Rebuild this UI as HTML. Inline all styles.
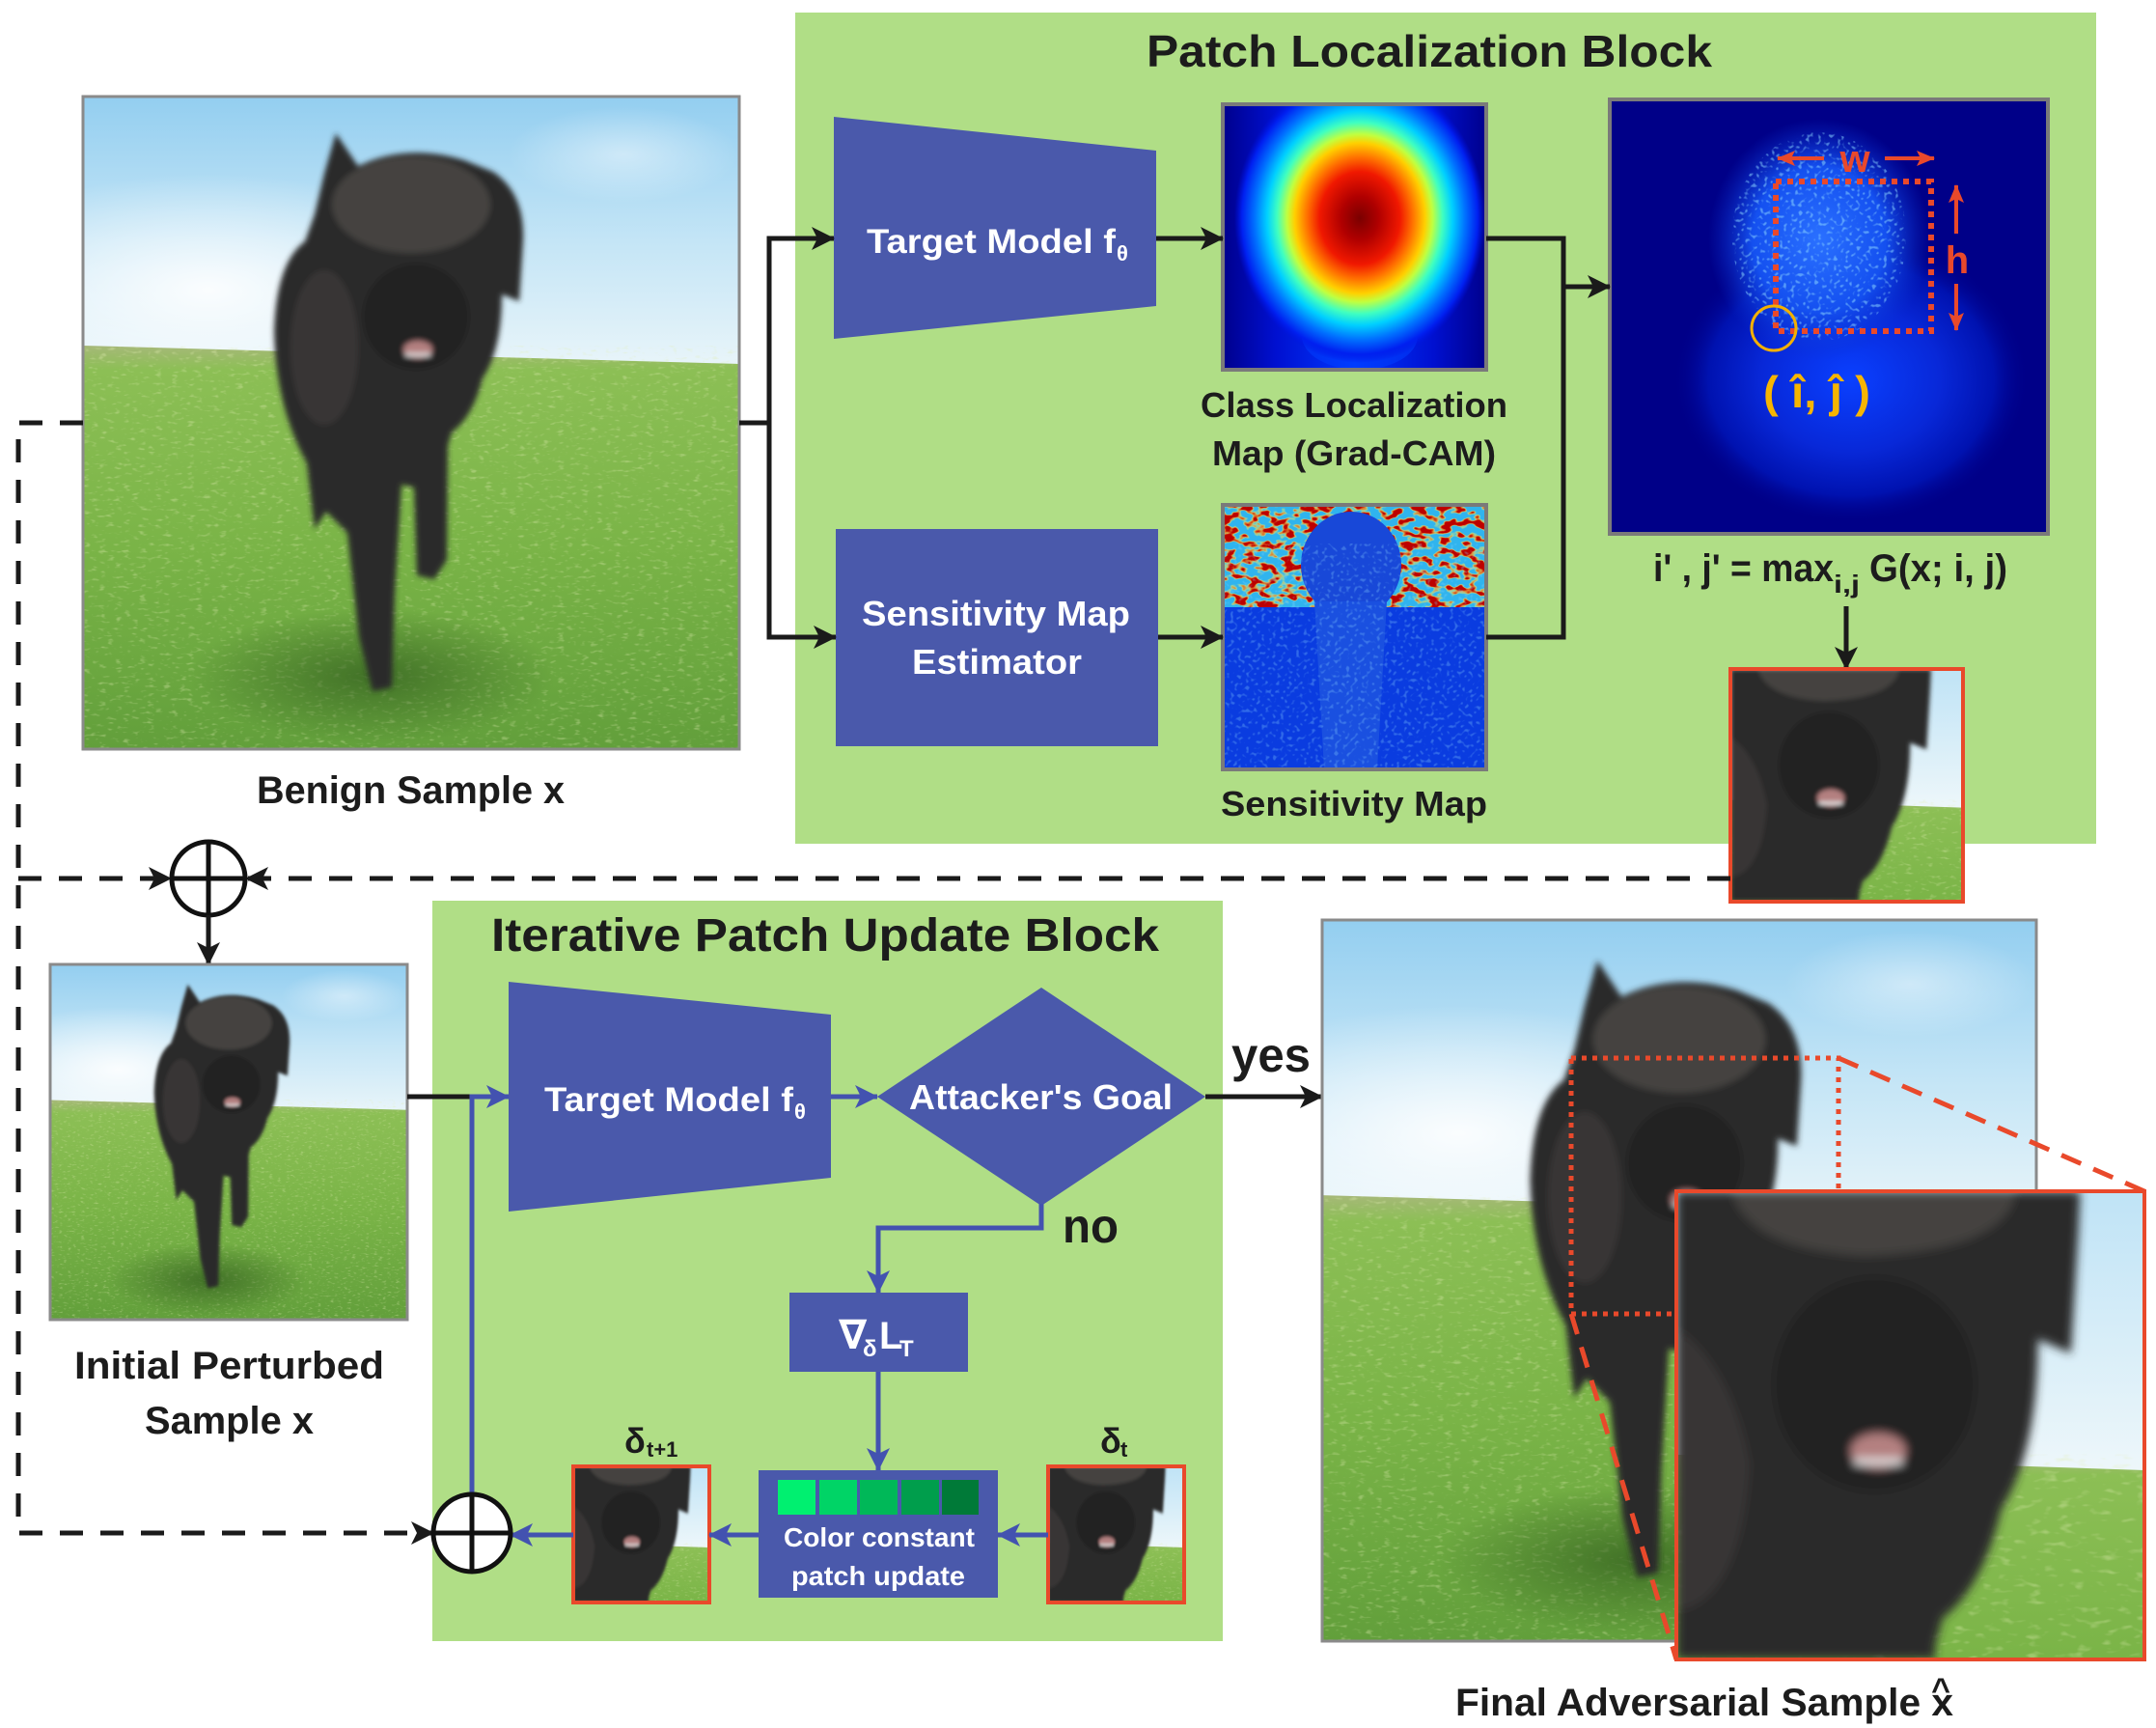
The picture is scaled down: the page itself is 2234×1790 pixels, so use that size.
<!DOCTYPE html>
<html><head><meta charset="utf-8"><style>
html,body{margin:0;padding:0;background:#fff;width:2234px;height:1790px;overflow:hidden;}
svg{display:block;}
text{font-family:"Liberation Sans","DejaVu Sans",sans-serif;font-weight:bold;fill:#1c1c1c;}
.w{fill:#fff;}
</style></head><body>
<svg xmlns="http://www.w3.org/2000/svg" xmlns:xlink="http://www.w3.org/1999/xlink" width="2234" height="1790" viewBox="0 0 2234 1790" overflow="hidden">
<defs>
  <linearGradient id="sky" x1="0" y1="0" x2="0" y2="1">
    <stop offset="0" stop-color="#93cef0"/>
    <stop offset="0.5" stop-color="#c4e5f6"/>
    <stop offset="1" stop-color="#eef7fa"/>
  </linearGradient>
  <linearGradient id="skyf" x1="0" y1="0" x2="0" y2="1">
    <stop offset="0" stop-color="#bfe3f6"/>
    <stop offset="1" stop-color="#eef7fa"/>
  </linearGradient>
  <radialGradient id="haze" cx="0.5" cy="0.5" r="0.5">
    <stop offset="0" stop-color="#ffffff" stop-opacity="0.9"/>
    <stop offset="1" stop-color="#ffffff" stop-opacity="0"/>
  </radialGradient>
  <linearGradient id="grass" x1="0" y1="0" x2="0" y2="1">
    <stop offset="0" stop-color="#a6b878"/>
    <stop offset="0.06" stop-color="#8cbf55"/>
    <stop offset="0.5" stop-color="#7ab447"/>
    <stop offset="1" stop-color="#629f3b"/>
  </linearGradient>
  <linearGradient id="grassf" x1="0" y1="0" x2="0" y2="1">
    <stop offset="0" stop-color="#a6b878"/>
    <stop offset="0.1" stop-color="#8cbf55"/>
    <stop offset="1" stop-color="#7ab447"/>
  </linearGradient>
  <radialGradient id="shadow" cx="0.5" cy="0.5" r="0.5">
    <stop offset="0" stop-color="#2f5a1c" stop-opacity="0.7"/>
    <stop offset="1" stop-color="#2f5a1c" stop-opacity="0"/>
  </radialGradient>
  <filter id="soft" x="-10%" y="-10%" width="120%" height="120%">
    <feGaussianBlur stdDeviation="3"/>
  </filter>
  <filter id="softf" x="-10%" y="-10%" width="120%" height="120%">
    <feGaussianBlur stdDeviation="2.5"/>
  </filter>
  <filter id="gtex" x="0" y="0" width="1" height="1">
    <feTurbulence type="fractalNoise" baseFrequency="0.12 0.3" numOctaves="2" seed="4"/>
    <feColorMatrix type="matrix" values="0 0 0 0 0.75  0 0 0 0 0.85  0 0 0 0 0.45  4 0 0 0 -2.3"/>
  </filter>
  <symbol id="scene" viewBox="0 0 680 676" preserveAspectRatio="none">
    <rect x="0" y="0" width="680" height="300" fill="url(#sky)"/>
    <ellipse cx="130" cy="200" rx="280" ry="120" fill="url(#haze)"/>
    <ellipse cx="560" cy="60" rx="120" ry="50" fill="url(#haze)" opacity="0.5"/>
    <polygon points="0,258 680,277 680,676 0,676" fill="url(#grass)"/>
    <polygon points="0,258 680,277 680,676 0,676" fill="#fff" filter="url(#gtex)" opacity="0.35"/>
    <ellipse cx="300" cy="600" rx="190" ry="70" fill="url(#shadow)"/>
    <g filter="url(#soft)">
      <path d="M240,122 L250,80 L262,38 L285,72 Q335,48 395,66 L425,78 Q458,100 456,150 L452,212 L434,205 Q434,262 414,292 Q404,332 382,348 L378,362 L377,480 L364,500 L346,496 L343,405 L330,402 L323,515 L320,612 L300,616 L286,560 L274,452 L252,430 L240,448 L232,380 Q200,322 198,244 Q200,172 230,150 Z" fill="#2c2b2b"/>
      <ellipse cx="340" cy="112" rx="82" ry="50" fill="#55524f" opacity="0.6"/>
      <ellipse cx="250" cy="260" rx="35" ry="80" fill="#44413e" opacity="0.5"/>
      <ellipse cx="345" cy="228" rx="55" ry="55" fill="#222121"/>
      <ellipse cx="347" cy="262" rx="15" ry="9" fill="#b48080"/>
      <rect x="334" y="266" width="26" height="3" fill="#e8e8e8"/>
    </g>
  </symbol>
  <symbol id="face" viewBox="0 0 255 240" preserveAspectRatio="none">
    <rect x="0" y="0" width="255" height="145" fill="url(#skyf)"/>
    <polygon points="0,135 255,143 255,240 0,240" fill="url(#grassf)"/>
    <polygon points="0,135 255,143 255,240 0,240" fill="#fff" filter="url(#gtex)" opacity="0.35"/>
    <g filter="url(#softf)">
      <path d="M0,0 H220 L219,21 L215,83 L197,76 Q197,133 177,163 Q167,203 145,219 L141,233 L141,240 H0 Z" fill="#2c2b2b"/>
      <path d="M30,0 H185 Q180,30 103,33 Q40,30 30,0 Z" fill="#55524f" opacity="0.6"/>
      <path d="M0,70 Q30,90 40,140 Q35,210 0,215 Z" fill="#44413e" opacity="0.5"/>
      <ellipse cx="108" cy="99" rx="55" ry="55" fill="#222121"/>
      <ellipse cx="110" cy="133" rx="15" ry="9" fill="#b48080"/>
      <rect x="97" y="137" width="26" height="3" fill="#e8e8e8"/>
    </g>
  </symbol>
  <radialGradient id="jet" cx="0.5" cy="0.5" r="0.5">
    <stop offset="0" stop-color="#7a0000"/>
    <stop offset="0.15" stop-color="#b00000"/>
    <stop offset="0.32" stop-color="#f01800"/>
    <stop offset="0.42" stop-color="#ff7000"/>
    <stop offset="0.52" stop-color="#ffd000"/>
    <stop offset="0.58" stop-color="#c0ff40"/>
    <stop offset="0.66" stop-color="#40ffc0"/>
    <stop offset="0.74" stop-color="#00d0ff"/>
    <stop offset="0.84" stop-color="#0070ff"/>
    <stop offset="0.94" stop-color="#0020f0"/>
    <stop offset="1" stop-color="#0010e0" stop-opacity="0"/>
  </radialGradient>
  <linearGradient id="band" x1="0" y1="0" x2="1" y2="0">
    <stop offset="0" stop-color="#00008c"/>
    <stop offset="0.2" stop-color="#0010d0"/>
    <stop offset="0.5" stop-color="#0038ff"/>
    <stop offset="0.8" stop-color="#0010d0"/>
    <stop offset="1" stop-color="#00008c"/>
  </linearGradient>
  <radialGradient id="cyantop" cx="0.5" cy="0.5" r="0.5">
    <stop offset="0" stop-color="#30ffd0"/>
    <stop offset="0.6" stop-color="#00b0ff"/>
    <stop offset="1" stop-color="#0040ff" stop-opacity="0"/>
  </radialGradient>
  <filter id="yn" x="0" y="0" width="1" height="1">
    <feTurbulence type="fractalNoise" baseFrequency="0.08 0.13" numOctaves="2" seed="7"/>
    <feColorMatrix type="matrix" values="0 0 0 0 1  0 0 0 0 0.9  0 0 0 0 0.1  9 0 0 0 -4.1"/>
  </filter>
  <filter id="rn" x="0" y="0" width="1" height="1">
    <feTurbulence type="fractalNoise" baseFrequency="0.08 0.13" numOctaves="2" seed="7"/>
    <feColorMatrix type="matrix" values="0 0 0 0 0.5  0 0 0 0 0  0 0 0 0 0  9 0 0 0 -4.6"/>
  </filter>
  <filter id="bn" x="0" y="0" width="1" height="1">
    <feTurbulence type="fractalNoise" baseFrequency="0.25" numOctaves="1" seed="2"/>
    <feColorMatrix type="matrix" values="0 0 0 0 0.25  0 0 0 0 0.65  0 0 0 0 1  6 0 0 0 -3.3"/>
  </filter>
  <radialGradient id="sal1" cx="0.5" cy="0.5" r="0.5">
    <stop offset="0" stop-color="#0a40ff"/>
    <stop offset="0.5" stop-color="#0828d8"/>
    <stop offset="0.8" stop-color="#0012b0"/>
    <stop offset="1" stop-color="#000088" stop-opacity="0"/>
  </radialGradient>
  <radialGradient id="sal2" cx="0.5" cy="0.5" r="0.5">
    <stop offset="0" stop-color="#2a70ff"/>
    <stop offset="0.6" stop-color="#1450f0"/>
    <stop offset="1" stop-color="#0830d0" stop-opacity="0"/>
  </radialGradient>
  <clipPath id="headclip"><ellipse cx="217" cy="142" rx="90" ry="108"/></clipPath>
  <marker id="ak" markerUnits="userSpaceOnUse" markerWidth="26" markerHeight="26" refX="23" refY="13" orient="auto">
    <path d="M0,1 L24,13 L0,25 L6,13 Z" fill="#1a1a1a"/>
  </marker>
  <marker id="ab" markerUnits="userSpaceOnUse" markerWidth="26" markerHeight="26" refX="23" refY="13" orient="auto">
    <path d="M0,1 L24,13 L0,25 L6,13 Z" fill="#4352b0"/>
  </marker>
  <marker id="ar" markerUnits="userSpaceOnUse" markerWidth="20" markerHeight="20" refX="18" refY="10" orient="auto">
    <path d="M0,2 L19,10 L0,18 L4,10 Z" fill="#e9492b"/>
  </marker>
</defs>

<!-- green blocks -->
<rect x="824" y="13" width="1348" height="861" fill="#b0de86"/>
<rect x="448" y="933" width="819" height="767" fill="#b0de86"/>

<!-- Benign image -->
<use xlink:href="#scene" href="#scene" x="86" y="100" width="680" height="676"/>
<rect x="86" y="100" width="680" height="676" fill="none" stroke="#8a8a8a" stroke-width="3"/>
<text x="266" y="832" font-size="40" textLength="319" lengthAdjust="spacingAndGlyphs">Benign Sample x</text>

<!-- Title top -->
<text x="1188" y="69" font-size="46" textLength="586" lengthAdjust="spacingAndGlyphs">Patch Localization Block</text>

<!-- Target model top -->
<polygon points="864,121 1198,156 1198,317 864,351" fill="#4a59ab"/>
<text class="w" x="898" y="262" font-size="35" textLength="258" lengthAdjust="spacingAndGlyphs">Target Model f</text>
<text class="w" x="1157" y="270" font-size="22">θ</text>

<!-- Sensitivity estimator -->
<rect x="866" y="548" width="334" height="225" fill="#4a59ab"/>
<text class="w" x="893" y="648" font-size="36" textLength="278" lengthAdjust="spacingAndGlyphs">Sensitivity Map</text>
<text class="w" x="945" y="698" font-size="36" textLength="176" lengthAdjust="spacingAndGlyphs">Estimator</text>

<!-- Grad-CAM -->
<svg x="1267" y="108" width="273" height="275" viewBox="0 0 273 275">
  <rect width="273" height="275" fill="url(#band)"/>
  <ellipse cx="142" cy="30" rx="45" ry="30" fill="url(#cyantop)"/>
  <ellipse cx="142" cy="240" rx="60" ry="35" fill="#0040ff" opacity="0.5"/>
  <ellipse cx="142" cy="118" rx="130" ry="150" fill="url(#jet)"/>
</svg>
<rect x="1267" y="108" width="273" height="275" fill="none" stroke="#7a7a7a" stroke-width="4"/>
<text x="1244" y="432" font-size="36" textLength="318" lengthAdjust="spacingAndGlyphs">Class Localization</text>
<text x="1256" y="482" font-size="36" textLength="294" lengthAdjust="spacingAndGlyphs">Map (Grad-CAM)</text>

<!-- Sensitivity map -->
<svg x="1267" y="523" width="273" height="274" viewBox="0 0 273 274">
  <rect width="273" height="274" fill="#0a3ce0"/>
  <rect width="273" height="106" fill="#30b4ee"/>
  <rect width="273" height="106" fill="#fff" filter="url(#yn)"/>
  <rect width="273" height="106" fill="#fff" filter="url(#rn)"/>
  <ellipse cx="133" cy="62" rx="52" ry="55" fill="#1848d8"/>
  <path d="M95,100 L170,100 L160,274 L105,274 Z" fill="#1a50e0"/>
  <rect y="40" width="273" height="234" fill="#fff" filter="url(#bn)" opacity="0.3"/>
</svg>
<rect x="1267" y="523" width="273" height="274" fill="none" stroke="#7a7a7a" stroke-width="4"/>
<text x="1265" y="845" font-size="36" textLength="276" lengthAdjust="spacingAndGlyphs">Sensitivity Map</text>

<!-- Saliency -->
<svg x="1668" y="103" width="454" height="450" viewBox="0 0 454 450">
  <rect width="454" height="450" fill="#000088"/>
  <ellipse cx="250" cy="290" rx="185" ry="150" fill="url(#sal1)"/>
  <ellipse cx="217" cy="145" rx="115" ry="125" fill="url(#sal2)"/>
  <rect x="110" y="30" width="220" height="230" fill="#fff" filter="url(#bn)" clip-path="url(#headclip)" opacity="0.55"/>
</svg>
<rect x="1668" y="103" width="454" height="450" fill="none" stroke="#7a7a7a" stroke-width="4"/>
<rect x="1840" y="188" width="161" height="155" fill="none" stroke="#e9492b" stroke-width="6" stroke-dasharray="6 6"/>
<line x1="1890" y1="164" x2="1842" y2="164" stroke="#e9492b" stroke-width="4" marker-end="url(#ar)"/>
<line x1="1953" y1="164" x2="2004" y2="164" stroke="#e9492b" stroke-width="4" marker-end="url(#ar)"/>
<text x="1922" y="178" font-size="40" text-anchor="middle" style="fill:#e9492b">w</text>
<line x1="2027" y1="242" x2="2027" y2="192" stroke="#e9492b" stroke-width="4" marker-end="url(#ar)"/>
<line x1="2027" y1="294" x2="2027" y2="342" stroke="#e9492b" stroke-width="4" marker-end="url(#ar)"/>
<text x="2028" y="283" font-size="40" text-anchor="middle" style="fill:#e9492b">h</text>
<circle cx="1838" cy="340" r="23" fill="none" stroke="#f3b000" stroke-width="3"/>
<text x="1827" y="422" font-size="46" textLength="111" lengthAdjust="spacingAndGlyphs" style="fill:#f7b500">( î, ĵ )</text>

<!-- formula -->
<text x="1713" y="602" font-size="40" textLength="187" lengthAdjust="spacingAndGlyphs">i' , j' = max</text>
<text x="1900" y="614" font-size="26" textLength="27" lengthAdjust="spacingAndGlyphs">i,j</text>
<text x="1937" y="602" font-size="40" textLength="143" lengthAdjust="spacingAndGlyphs">G(x; i, j)</text>
<line x1="1913" y1="628" x2="1913" y2="693" stroke="#1a1a1a" stroke-width="5" marker-end="url(#ak)"/>

<!-- patch image -->
<use xlink:href="#face" href="#face" x="1793" y="693" width="241" height="241"/>
<rect x="1793" y="693" width="241" height="241" fill="none" stroke="#e9492b" stroke-width="4"/>

<!-- top connectors -->
<polyline points="766,438 797,438" fill="none" stroke="#1a1a1a" stroke-width="5"/>
<polyline points="797,660 797,247 864,247" fill="none" stroke="#1a1a1a" stroke-width="5" marker-end="url(#ak)"/>
<polyline points="797,440 797,660 866,660" fill="none" stroke="#1a1a1a" stroke-width="5" marker-end="url(#ak)"/>
<line x1="1198" y1="247" x2="1267" y2="247" stroke="#1a1a1a" stroke-width="5" marker-end="url(#ak)"/>
<line x1="1200" y1="660" x2="1267" y2="660" stroke="#1a1a1a" stroke-width="5" marker-end="url(#ak)"/>
<polyline points="1540,247 1620,247 1620,660 1540,660" fill="none" stroke="#1a1a1a" stroke-width="5"/>
<line x1="1620" y1="297" x2="1668" y2="297" stroke="#1a1a1a" stroke-width="5" marker-end="url(#ak)"/>

<!-- dashed feedback lines -->
<path d="M86,438 H19 V1588 H449" fill="none" stroke="#1a1a1a" stroke-width="5" stroke-dasharray="24 18" marker-end="url(#ak)"/>
<path d="M19,910 H177" fill="none" stroke="#1a1a1a" stroke-width="5" stroke-dasharray="24 18" marker-end="url(#ak)"/>
<path d="M1793,910 H255" fill="none" stroke="#1a1a1a" stroke-width="5" stroke-dasharray="24 18" marker-end="url(#ak)"/>

<!-- top circle -->
<circle cx="216" cy="910" r="38" fill="#fff" stroke="#111" stroke-width="5"/>
<line x1="178" y1="910" x2="254" y2="910" stroke="#111" stroke-width="5"/>
<line x1="216" y1="872" x2="216" y2="948" stroke="#111" stroke-width="5"/>
<line x1="216" y1="948" x2="216" y2="999" stroke="#1a1a1a" stroke-width="5" marker-end="url(#ak)"/>

<!-- initial perturbed -->
<use xlink:href="#scene" href="#scene" x="52" y="999" width="370" height="368"/>
<rect x="52" y="999" width="370" height="368" fill="none" stroke="#8a8a8a" stroke-width="3"/>
<text x="77" y="1428" font-size="40" textLength="321" lengthAdjust="spacingAndGlyphs">Initial Perturbed</text>
<text x="150" y="1485" font-size="40" textLength="175" lengthAdjust="spacingAndGlyphs">Sample x</text>

<!-- bottom block -->
<text x="509" y="985" font-size="48" textLength="692" lengthAdjust="spacingAndGlyphs">Iterative Patch Update Block</text>
<polygon points="527,1017 861,1051 861,1220 527,1255" fill="#4a59ab"/>
<text class="w" x="564" y="1151" font-size="35" textLength="258" lengthAdjust="spacingAndGlyphs">Target Model f</text>
<text class="w" x="823" y="1159" font-size="22">θ</text>
<polygon points="1079,1023 1249,1136 1079,1249 909,1136" fill="#4a59ab"/>
<text class="w" x="942" y="1149" font-size="36" textLength="273" lengthAdjust="spacingAndGlyphs">Attacker's Goal</text>

<!-- bottom connectors -->
<line x1="422" y1="1136" x2="489" y2="1136" stroke="#1a1a1a" stroke-width="5"/>
<polyline points="489,1548 489,1136 527,1136" fill="none" stroke="#4352b0" stroke-width="5" marker-end="url(#ab)"/>
<line x1="861" y1="1136" x2="909" y2="1136" stroke="#4352b0" stroke-width="5" marker-end="url(#ab)"/>
<line x1="1249" y1="1136" x2="1370" y2="1136" stroke="#1a1a1a" stroke-width="5" marker-end="url(#ak)"/>
<text x="1276" y="1110" font-size="50" textLength="82" lengthAdjust="spacingAndGlyphs">yes</text>
<polyline points="1079,1247 1079,1272 910,1272 910,1339" fill="none" stroke="#4352b0" stroke-width="5" marker-end="url(#ab)"/>
<text x="1101" y="1287" font-size="50" textLength="58" lengthAdjust="spacingAndGlyphs">no</text>

<rect x="818" y="1339" width="185" height="82" fill="#4a59ab"/>
<text class="w" x="869" y="1397" font-size="42">∇</text>
<text class="w" x="894" y="1405" font-size="24">δ</text>
<text class="w" x="911" y="1397" font-size="40">L</text>
<text class="w" x="932" y="1405" font-size="24">T</text>

<line x1="910" y1="1421" x2="910" y2="1523" stroke="#4352b0" stroke-width="5" marker-end="url(#ab)"/>

<rect x="786" y="1523" width="248" height="132" fill="#4a59ab"/>
<rect x="806" y="1533" width="39" height="36" fill="#00f070"/>
<rect x="849" y="1533" width="39" height="36" fill="#00d466"/>
<rect x="891" y="1533" width="39" height="36" fill="#00b858"/>
<rect x="934" y="1533" width="39" height="36" fill="#009e4c"/>
<rect x="976" y="1533" width="38" height="36" fill="#007a38"/>
<text class="w" x="812" y="1602" font-size="28" textLength="198" lengthAdjust="spacingAndGlyphs">Color constant</text>
<text class="w" x="820" y="1642" font-size="28" textLength="180" lengthAdjust="spacingAndGlyphs">patch update</text>

<!-- delta images -->
<use xlink:href="#face" href="#face" x="1086" y="1519" width="141" height="141"/>
<rect x="1086" y="1519" width="141" height="141" fill="none" stroke="#e9492b" stroke-width="4"/>
<use xlink:href="#face" href="#face" x="594" y="1519" width="141" height="141"/>
<rect x="594" y="1519" width="141" height="141" fill="none" stroke="#e9492b" stroke-width="4"/>
<text x="647" y="1505" font-size="36">δ</text>
<text x="670" y="1509" font-size="22">t+1</text>
<text x="1140" y="1505" font-size="36">δ</text>
<text x="1161" y="1509" font-size="22">t</text>

<line x1="1086" y1="1590" x2="1034" y2="1590" stroke="#4352b0" stroke-width="5" marker-end="url(#ab)"/>
<line x1="786" y1="1590" x2="735" y2="1590" stroke="#4352b0" stroke-width="5" marker-end="url(#ab)"/>
<line x1="594" y1="1590" x2="529" y2="1590" stroke="#4352b0" stroke-width="5" marker-end="url(#ab)"/>

<!-- bottom circle -->
<circle cx="489" cy="1588" r="40" fill="#fff" stroke="#111" stroke-width="5"/>
<line x1="449" y1="1588" x2="529" y2="1588" stroke="#111" stroke-width="5"/>
<line x1="489" y1="1548" x2="489" y2="1628" stroke="#111" stroke-width="5"/>

<!-- final adversarial -->
<use xlink:href="#scene" href="#scene" x="1370" y="953" width="740" height="747"/>
<rect x="1370" y="953" width="740" height="747" fill="none" stroke="#8a8a8a" stroke-width="3"/>
<rect x="1628" y="1096" width="277" height="265" fill="none" stroke="#e9492b" stroke-width="5" stroke-dasharray="5 6"/>
<line x1="1905" y1="1096" x2="2222" y2="1234" stroke="#e9492b" stroke-width="5" stroke-dasharray="22 14"/>
<line x1="1628" y1="1361" x2="1737" y2="1719" stroke="#e9492b" stroke-width="5" stroke-dasharray="22 14"/>
<use xlink:href="#face" href="#face" x="1737" y="1234" width="485" height="485"/>
<rect x="1737" y="1234" width="485" height="485" fill="none" stroke="#e9492b" stroke-width="4"/>
<text x="1508" y="1777" font-size="40" textLength="516" lengthAdjust="spacingAndGlyphs">Final Adversarial Sample x</text>
<text x="2011" y="1762" font-size="34" text-anchor="middle">^</text>
</svg>
</body></html>
